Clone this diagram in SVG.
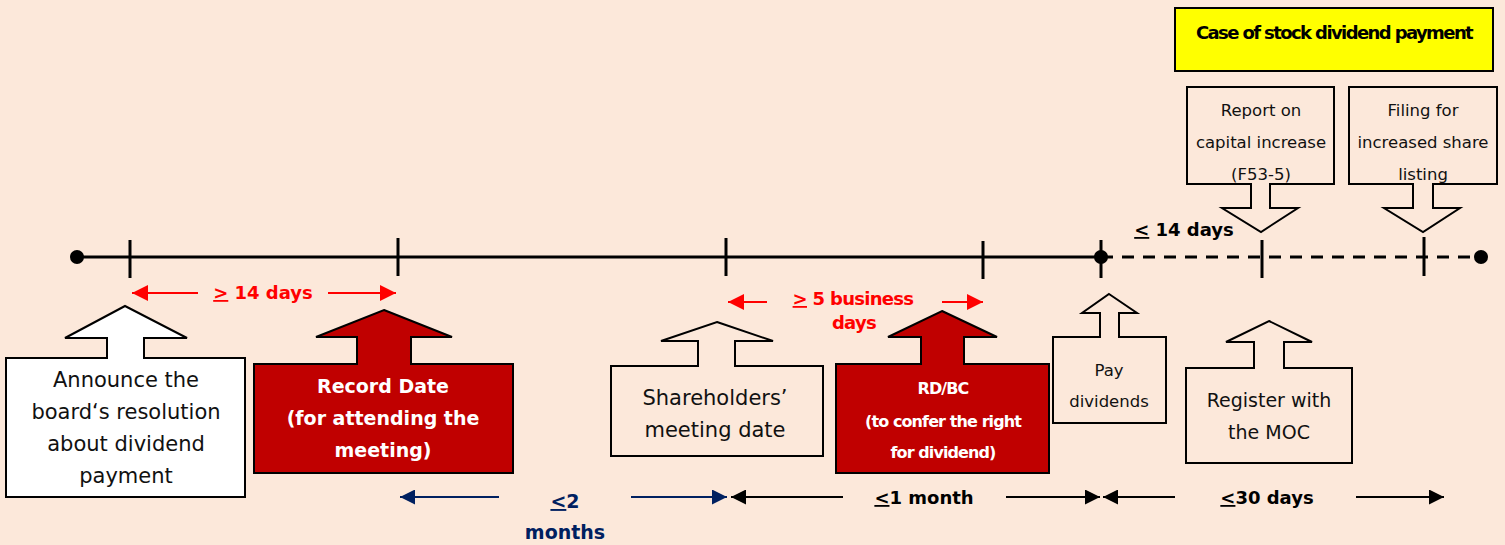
<svg xmlns="http://www.w3.org/2000/svg" width="1505" height="545" viewBox="0 0 1505 545">
  <style>
    text { font-family: "DejaVu Sans", Verdana, "Liberation Sans", sans-serif; text-anchor: middle; }
    .box { fill: #ffffff; stroke: #000; stroke-width: 2; }
    .plain { fill: none; stroke: #000; stroke-width: 2; }
    .red { fill: #c00000; stroke: #000; stroke-width: 2; }
    .lbl { font-size: 21px; fill: #111; }
    .lblM { font-size: 19px; fill: #111; }
    .lblS { font-size: 16.5px; fill: #111; }
    .wht { font-size: 19px; font-weight: bold; fill: #fff; }
    .whtN { font-size: 16px; font-weight: bold; fill: #fff; letter-spacing: -0.9px; }
    .rtxt { font-size: 18px; font-weight: bold; fill: #ff0000; }
    .btxt { font-size: 18px; font-weight: bold; fill: #000; }
    .ntxt { font-size: 19px; font-weight: bold; fill: #002060; }
    .u { text-decoration: underline; }
    .axis { stroke: #000; stroke-width: 3; }
    .tick { stroke: #000; stroke-width: 3; }
    .rl { stroke: #ff0000; stroke-width: 2; }
    .nl { stroke: #002060; stroke-width: 2; }
    .kl { stroke: #000; stroke-width: 2; }
  </style>
  <defs>
    <marker id="hr" viewBox="0 0 10 10" refX="10" refY="5" markerWidth="16" markerHeight="16" markerUnits="userSpaceOnUse" orient="auto-start-reverse">
      <path d="M0,0 L10,5 L0,10 z" fill="#ff0000"/>
    </marker>
    <marker id="hn" viewBox="0 0 10 10" refX="10" refY="5" markerWidth="15" markerHeight="15" markerUnits="userSpaceOnUse" orient="auto-start-reverse">
      <path d="M0,0 L10,5 L0,10 z" fill="#002060"/>
    </marker>
    <marker id="hk" viewBox="0 0 10 10" refX="10" refY="5" markerWidth="15" markerHeight="15" markerUnits="userSpaceOnUse" orient="auto-start-reverse">
      <path d="M0,0 L10,5 L0,10 z" fill="#000"/>
    </marker>
  </defs>

  <rect width="1505" height="545" fill="#fce8da"/>

  <!-- timeline -->
  <g id="timeline">
    <line class="axis" x1="77" y1="257" x2="1101" y2="257"/>
    <line class="axis" x1="1101" y1="257" x2="1481" y2="257" stroke-dasharray="12,9"/>
    <circle cx="77" cy="257" r="7" fill="#000"/>
    <circle cx="1101" cy="257" r="7" fill="#000"/>
    <circle cx="1481" cy="257" r="7" fill="#000"/>
    <line class="tick" x1="130" y1="240" x2="130" y2="278"/>
    <line class="tick" x1="398" y1="238" x2="398" y2="276"/>
    <line class="tick" x1="726" y1="238" x2="726" y2="276"/>
    <line class="tick" x1="983" y1="241" x2="983" y2="279"/>
    <line class="tick" x1="1101" y1="240" x2="1101" y2="278"/>
    <line class="tick" x1="1262" y1="240" x2="1262" y2="278"/>
    <line class="tick" x1="1424" y1="237" x2="1424" y2="276"/>
  </g>

  <!-- interval connectors and labels -->
  <g id="connectors">
    <line class="rl" x1="198" y1="293" x2="132" y2="293" marker-end="url(#hr)"/>
    <line class="rl" x1="328" y1="293" x2="396" y2="293" marker-end="url(#hr)"/>
    <text class="rtxt" x="263" y="299"><tspan class="u">&gt;</tspan> 14 days</text>

    <line class="rl" x1="767" y1="302" x2="728" y2="302" marker-end="url(#hr)"/>
    <line class="rl" x1="942" y1="302" x2="983" y2="302" marker-end="url(#hr)"/>
    <text class="rtxt" x="853" y="305" font-size="16.5" letter-spacing="-0.7"><tspan class="u">&gt;</tspan> 5 business</text>
    <text class="rtxt" x="854" y="329" font-size="16.5" letter-spacing="-0.7">days</text>

    <text class="btxt" x="1184" y="236" font-size="17"><tspan class="u">&lt;</tspan> 14 days</text>

    <line class="nl" x1="499" y1="497" x2="400" y2="497" marker-end="url(#hn)"/>
    <line class="nl" x1="631" y1="497" x2="727" y2="497" marker-end="url(#hn)"/>
    <text class="ntxt" x="565" y="508"><tspan class="u">&lt;</tspan>2</text>
    <text class="ntxt" x="565" y="539">months</text>

    <line class="kl" x1="843" y1="497" x2="731" y2="497" marker-end="url(#hk)"/>
    <line class="kl" x1="1006" y1="497" x2="1100" y2="497" marker-end="url(#hk)"/>
    <text class="btxt" x="924" y="504" font-size="19"><tspan class="u">&lt;</tspan>1 month</text>

    <line class="kl" x1="1175" y1="497" x2="1103" y2="497" marker-end="url(#hk)"/>
    <line class="kl" x1="1356" y1="497" x2="1444" y2="497" marker-end="url(#hk)"/>
    <text class="btxt" x="1267" y="504" font-size="19"><tspan class="u">&lt;</tspan>30 days</text>
  </g>

  <!-- board resolution announcement -->
  <g id="announce">
    <path class="box" d="M125,306 L187,338 L144,338 L144,358 L245,358 L245,497 L6,497 L6,358 L107,358 L107,338 L65,338 Z"/>
    <text class="lbl" x="126" y="387">Announce the</text>
    <text class="lbl" x="126" y="419">board‘s resolution</text>
    <text class="lbl" x="126" y="451">about dividend</text>
    <text class="lbl" x="126" y="483">payment</text>
  </g>

  <!-- record date for the meeting -->
  <g id="record-date">
    <path class="red" d="M384,310 L452,337 L411,337 L411,364 L513,364 L513,473 L254,473 L254,364 L357,364 L357,337 L316,337 Z"/>
    <text class="wht" x="383" y="393">Record Date</text>
    <text class="wht" x="383" y="425">(for attending the</text>
    <text class="wht" x="383" y="457">meeting)</text>
  </g>

  <!-- shareholders' meeting -->
  <g id="meeting">
    <path class="plain" d="M717,322 L773,341 L735,341 L735,366 L823,366 L823,456 L611,456 L611,366 L698,366 L698,341 L661,341 Z"/>
    <text class="lbl" x="715" y="405">Shareholders’</text>
    <text class="lbl" x="715" y="437">meeting date</text>
  </g>

  <!-- record date for dividend -->
  <g id="rd-bc">
    <path class="red" d="M942,311 L997,337 L964,337 L964,364 L1049,364 L1049,473 L836,473 L836,364 L921,364 L921,337 L888,337 Z"/>
    <text class="whtN" x="943" y="394">RD/BC</text>
    <text class="whtN" x="943" y="427">(to confer the right</text>
    <text class="whtN" x="943" y="458">for dividend)</text>
  </g>

  <!-- dividend payment -->
  <g id="pay">
    <path class="plain" d="M1109,294 L1137,313 L1119,313 L1119,337 L1166,337 L1166,423 L1053,423 L1053,337 L1100,337 L1100,313 L1082,313 Z"/>
    <text class="lblS" x="1109" y="376">Pay</text>
    <text class="lblS" x="1109" y="407">dividends</text>
  </g>

  <!-- MOC registration -->
  <g id="register">
    <path class="plain" d="M1269,321 L1312,342 L1284,342 L1284,368 L1352,368 L1352,463 L1186,463 L1186,368 L1254,368 L1254,342 L1226,342 Z"/>
    <text class="lblM" x="1269" y="407">Register with</text>
    <text class="lblM" x="1269" y="439">the MOC</text>
  </g>

  <!-- stock dividend heading -->
  <g id="stock-case">
    <rect x="1175" y="8" width="318" height="63" fill="#ffff00" stroke="#000" stroke-width="2"/>
    <text x="1334" y="39" font-size="18" font-weight="bold" letter-spacing="-1.6" fill="#000">Case of stock dividend payment</text>
  </g>

  <!-- capital increase report -->
  <g id="report">
    <path class="plain" d="M1187,87 L1334,87 L1334,184 L1270,184 L1270,208 L1298,208 L1261,232 L1222,208 L1251,208 L1251,184 L1187,184 Z"/>
    <text class="lblS" x="1261" y="116">Report on</text>
    <text class="lblS" x="1261" y="148">capital increase</text>
    <text class="lblS" x="1261" y="180">(F53-5)</text>
  </g>

  <!-- listing filing -->
  <g id="filing">
    <path class="plain" d="M1349,87 L1497,87 L1497,184 L1433,184 L1433,208 L1460,208 L1423,232 L1384,208 L1413,208 L1413,184 L1349,184 Z"/>
    <text class="lblS" x="1423" y="116">Filing for</text>
    <text class="lblS" x="1423" y="148">increased share</text>
    <text class="lblS" x="1423" y="180">listing</text>
  </g>
</svg>
